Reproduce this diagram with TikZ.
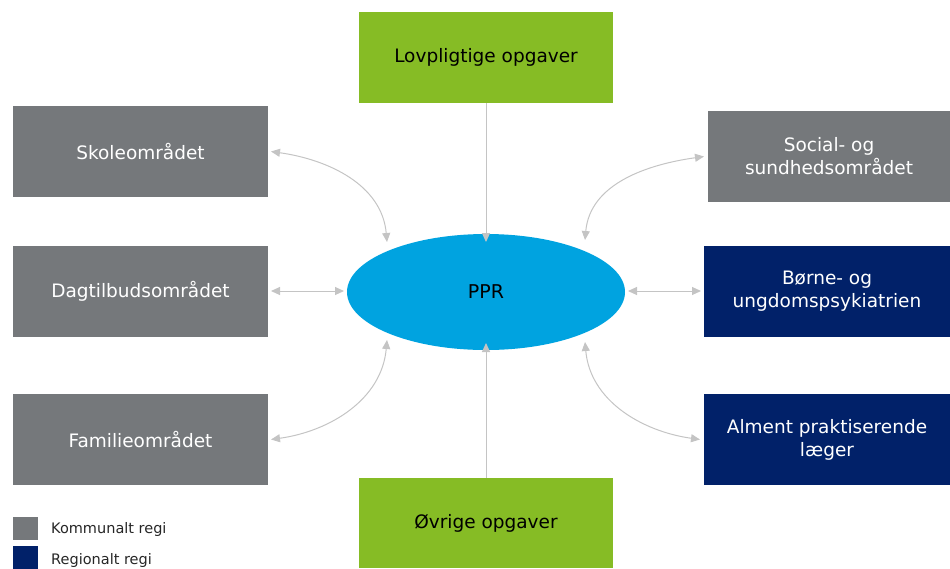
\documentclass[tikz,border=0pt]{standalone}
\usepackage{fontspec}
\setmainfont{DejaVu Sans}
\usetikzlibrary{shapes.geometric,arrows.meta}
\definecolor{cgray}{HTML}{75787B}
\definecolor{cgreen}{HTML}{86BC25}
\definecolor{cnavy}{HTML}{012169}
\definecolor{cblue}{HTML}{00A3E0}
\definecolor{carrow}{HTML}{C4C4C4}
\tikzset{
  box/.style={rectangle, minimum width=255pt, minimum height=91pt, inner sep=0pt, outer sep=0pt,
    text=white, align=center, font=\fontsize{18.5}{23}\selectfont},
  graybox/.style={box, fill=cgray},
  navybox/.style={box, fill=cnavy, minimum width=246pt},
  greenbox/.style={box, fill=cgreen, text=black, minimum width=254pt},
  conn/.style={draw=carrow, line width=1pt, -{Triangle[length=9pt,width=8pt]}},
  biconn/.style={draw=carrow, line width=1pt, {Triangle[length=9pt,width=8pt]}-{Triangle[length=9pt,width=8pt]}},
  legsq/.style={rectangle, minimum width=25pt, minimum height=23pt, inner sep=0pt},
  legtext/.style={anchor=west, inner sep=0pt, font=\fontsize{14.5}{17}\selectfont, text=black!85}
}
\begin{document}
\begin{tikzpicture}[x=1pt,y=-1pt]
\useasboundingbox (0,0) rectangle (950,568);
\node[greenbox] (lov) at (486,57.5) {Lovpligtige opgaver};
\node[greenbox, minimum height=90pt] (ovr) at (486,523) {Øvrige opgaver};
\node[graybox] (skole) at (140.5,151.5) {Skoleområdet};
\node[graybox] (dag) at (140.5,291) {Dagtilbudsområdet};
\node[graybox] (fam) at (140.5,439.5) {Familieområdet};
\node[graybox, minimum width=242pt] (soc) at (829,156.5) {Social- og\\sundhedsområdet};
\node[navybox] (born) at (827,291) {Børne- og\\ungdomspsykiatrien};
\node[navybox] (alm) at (827,439.5) {Alment praktiserende\\læger};
\node[ellipse, fill=cblue, minimum width=278pt, minimum height=116pt, inner sep=0pt, outer sep=0pt,
  font=\fontsize{19}{23}\selectfont] (ppr) at (486,292) {PPR};
% legend
\node[legsq, fill=cgray] (lg1) at (25.5,528.5) {};
\node[legsq, fill=cnavy] (lg2) at (25.5,557.5) {};
\node[legtext] (lt1) at (51,529) {Kommunalt regi};
\node[legtext] (lt2) at (51,560) {Regionalt regi};
% connectors
\draw[conn] (lov.south) -- ([yshift=-8pt]ppr.north);
\draw[conn] (ovr.north) -- ([yshift=7pt]ppr.south);
\draw[biconn] ([xshift=3pt]dag.east) -- ([xshift=-3pt]dag.east -| ppr.west);
\draw[biconn] ([xshift=3pt]born.west -| ppr.east) -- ([xshift=-3pt]born.west);
\draw[biconn] ([xshift=3pt]skole.east) to[out=-8,in=95] ([shift={(-99,-50)}]ppr.center);
\draw[biconn] ([xshift=3pt]fam.east) to[out=8,in=-95] ([shift={(-99,48)}]ppr.center);
\draw[biconn] ([xshift=-4pt]soc.west) to[out=188,in=85] ([shift={(99,-52)}]ppr.center);
\draw[biconn] ([xshift=-4pt]alm.west) to[out=172,in=-85] ([shift={(99,50)}]ppr.center);
\end{tikzpicture}
\end{document}
